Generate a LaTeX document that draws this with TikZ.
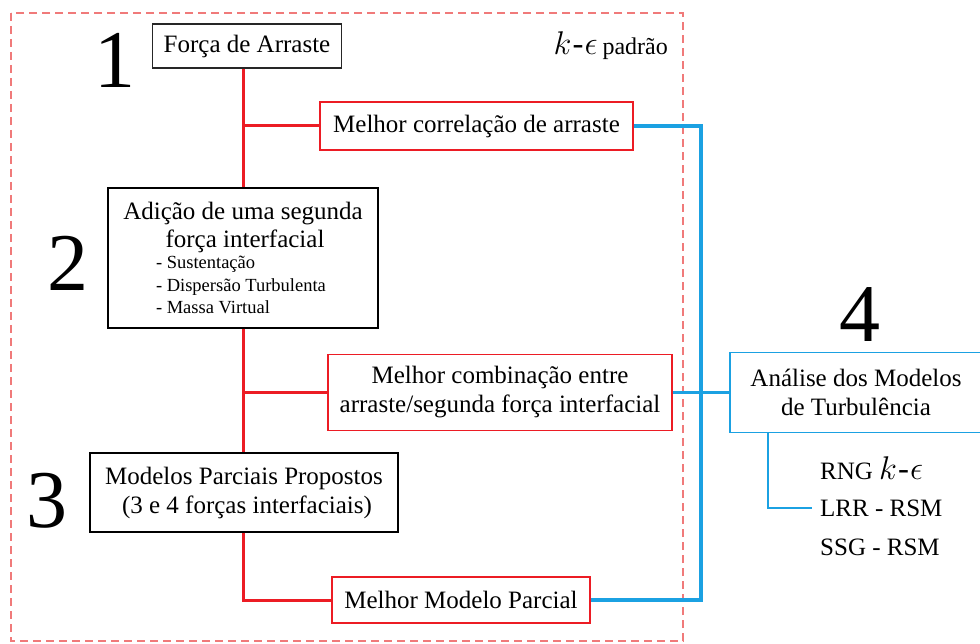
\documentclass[tikz,border=0pt]{standalone}
\usepackage{graphicx}
\usepackage{fontspec}
\setmainfont{Liberation Serif}
\definecolor{myred}{HTML}{EC1C24}
\definecolor{myblue}{HTML}{1BA1E2}
\definecolor{dashred}{HTML}{F07A7A}
\newcommand{\keps}{\scalebox{1.32}{\fontsize{24.88}{25}\selectfont$k$\kern0.8pt-\kern0.8pt$\epsilon$}}
\begin{document}
\begin{tikzpicture}[x=1pt,y=-1pt,
  box/.style={draw, line width=1.2pt, inner sep=0pt, align=center, font=\fontsize{25}{29}\selectfont},
  redbox/.style={box, draw=myred},
  bluebox/.style={box, draw=myblue},
  redline/.style={draw=myred, line width=3pt},
  blueline/.style={draw=myblue, line width=3.2pt},
  thinblue/.style={draw=myblue, line width=1.2pt},
  digit/.style={font=\fontsize{82}{82}\selectfont, inner sep=0pt},
  item/.style={font=\fontsize{25}{28}\selectfont, inner sep=0pt, anchor=west}
]
\useasboundingbox (0,0) rectangle (980,644);
\draw[dashred, line width=1.2pt, dash pattern=on 8pt off 5pt] (11,13) rectangle (683,641);

\node[digit] (d1) at (115,60) {1};
\node[digit] (d2) at (68,263) {2};
\node[digit] (d3) at (47,501) {3};
\node[digit] (d4) at (860,315) {4};

\node[box, draw=black!85, line width=1.5pt, minimum width=189, minimum height=44] (n1) at (247,46) {Força de Arraste};
\node[inner sep=0pt, anchor=east] (ke) at (668,46) {\keps\hspace{5pt}\fontsize{24}{24}\selectfont padrão};

\node[redbox, minimum width=313, minimum height=48] (c1) at (476.5,126) {Melhor correlação de arraste};

\node[box, minimum width=270, minimum height=140] (n2) at (243,258) {\begin{minipage}{262pt}\centering\fontsize{25}{27.5}\selectfont Adição de uma segunda\\ \hspace*{4pt}força interfacial\par\vspace{-1pt}\raggedright\leftskip=44pt\fontsize{18.5}{22.5}\selectfont - Sustentação\\ - Dispersão Turbulenta\\ - Massa Virtual\end{minipage}};

\node[redbox, minimum width=344, minimum height=76] (c2) at (500,392.5) {Melhor combinação entre\\ arraste/segunda força interfacial};

\node[box, minimum width=308, minimum height=79] (n3) at (244,492.5) {Modelos Parciais Propostos\\ \hspace*{6pt}(3 e 4 forças interfaciais)};

\node[redbox, minimum width=258, minimum height=46] (c3) at (461,600) {Melhor Modelo Parcial};

\node[bluebox, minimum width=252, minimum height=80] (n4) at (856,392.5) {Análise dos Modelos\\ de Turbulência};

\node[item] (r1) at (820,468) {RNG \keps};
\node[item] (r2) at (820,508) {LRR - RSM};
\node[item] (r3) at (820,547) {SSG - RSM};

\coordinate (sp) at (243,0);
\coordinate (bx) at (701,0);

\draw[redline] (n1.south -| sp) -- (n2.north -| sp);
\draw[redline] (c1.west) -- (c1.west -| sp);
\draw[redline] (n2.south -| sp) -- (n3.north -| sp);
\draw[redline] (c2.west) -- (c2.west -| sp);
\draw[redline] (n3.south -| sp) |- (c3.west);

\draw[blueline] (c1.east) -- (c1.east -| bx) -- (c3.east -| bx) -- (c3.east);
\draw[blueline] (c2.east) -- (n4.west);

\draw[thinblue] (n4.south -| 768,0) |- ([xshift=-8pt]r2.west);
\end{tikzpicture}
\end{document}
